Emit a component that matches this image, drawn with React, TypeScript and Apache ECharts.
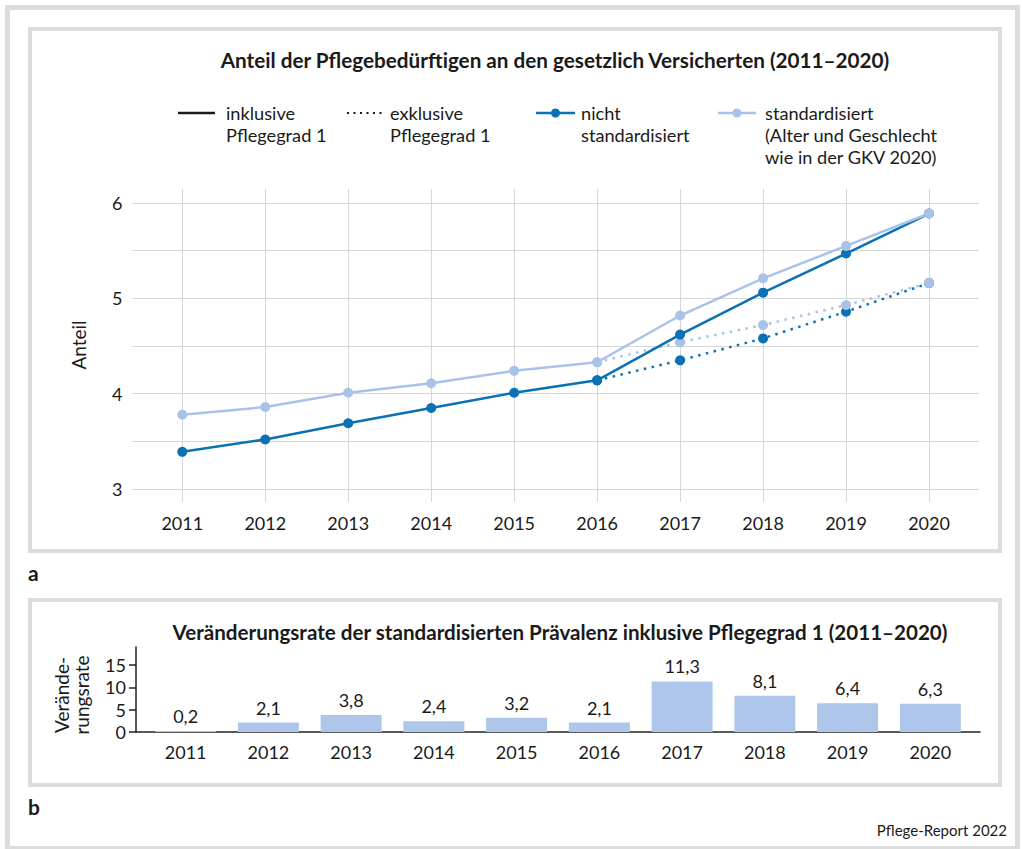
import React, { useEffect, useRef } from "react";
import * as echarts from "echarts";

const years = [2011, 2012, 2013, 2014, 2015, 2016, 2017, 2018, 2019, 2020];
const nichtInkl = [3.39, 3.52, 3.69, 3.85, 4.01, 4.14, 4.62, 5.06, 5.47, 5.89];
const stdInkl = [3.78, 3.86, 4.01, 4.11, 4.24, 4.33, 4.82, 5.21, 5.55, 5.89];
const exklYears = [2016, 2017, 2018, 2019, 2020];
const nichtExkl = [4.14, 4.35, 4.58, 4.86, 5.16];
const stdExkl = [4.33, 4.54, 4.72, 4.93, 5.16];
const rate = [0.2, 2.1, 3.8, 2.4, 3.2, 2.1, 11.3, 8.1, 6.4, 6.3];
const topGridValues = [3, 3.5, 4, 4.5, 5, 5.5, 6];
const topLabelValues = [3, 4, 5, 6];
const bottomTickValues = [0, 5, 10, 15];

const DARK = "#0a71b4";
const LIGHT = "#a9c3e8";
const BAR = "#adc6ea";
const TEXT = "#1a1a1a";
const BORDER = "#dcdcdc";
const GRIDC = "#d6d6d6";
const FONT = "Lato, 'Noto Sans', sans-serif";

const pair = (xs: number[], ys: number[]) => xs.map((x, i) => [x, ys[i]]);
const fmt = (v: number) => String(v).replace(".", ",");
const yearFmt = (v: number) => String(Math.round(v));

export default function App() {
  const ref = useRef<HTMLDivElement>(null);
  useEffect(() => {
    document.body.style.margin = "0";
    const chart = echarts.init(ref.current!, undefined, { renderer: "svg" });
    const txt = (text: string, x: number, y: number, extra: any = {}) => ({
      type: "text",
      x,
      y,
      style: {
        text,
        fill: TEXT,
        font: `400 18.2px ${FONT}`,
        align: "left",
        verticalAlign: "middle",
        ...extra,
      },
    });
    const legendTxt = (text: string, x: number) =>
      txt(text, x, 102, { verticalAlign: "top", lineHeight: 22 });
    const axisFont = { fontSize: 18, color: TEXT, fontFamily: FONT };
    chart.setOption({
      animation: false,
      textStyle: { fontFamily: FONT, color: TEXT },
      grid: [
        { left: 132.5, right: 43.2, top: 189, bottom: 347 },
        { left: 136, right: 42, top: 647, bottom: 117 },
      ],
      xAxis: [
        {
          gridIndex: 0,
          type: "value",
          min: 2010.4,
          max: 2020.6,
          axisLine: { show: false },
          axisTick: { show: false, customValues: years },
          axisLabel: { customValues: years, formatter: yearFmt, margin: 12, ...axisFont },
          splitLine: { show: true, lineStyle: { color: GRIDC, width: 1 } },
        },
        {
          gridIndex: 1,
          type: "value",
          min: 2010.4,
          max: 2020.6,
          axisLine: { show: true, onZero: false, lineStyle: { color: "#222", width: 1.5 } },
          axisTick: { show: false, customValues: years },
          axisLabel: { customValues: years, formatter: yearFmt, margin: 11, ...axisFont },
          splitLine: { show: false },
        },
      ],
      yAxis: [
        {
          gridIndex: 0,
          type: "value",
          min: 2.864,
          max: 6.147,
          axisLine: { show: false },
          axisTick: { show: false, customValues: topGridValues },
          axisLabel: { customValues: topLabelValues, margin: 10, ...axisFont },
          splitLine: { show: true, lineStyle: { color: GRIDC, width: 1.2 } },
        },
        {
          gridIndex: 1,
          type: "value",
          min: 0,
          max: 19,
          axisLine: { show: true, lineStyle: { color: "#222", width: 1.5 } },
          axisTick: {
            show: true,
            inside: false,
            length: 7,
            customValues: bottomTickValues,
            lineStyle: { color: "#222", width: 1.5 },
          },
          axisLabel: { customValues: bottomTickValues, margin: 10, ...axisFont },
          splitLine: { show: false },
        },
      ],
      series: [
        {
          name: "nicht standardisiert exklusive",
          type: "line",
          xAxisIndex: 0,
          yAxisIndex: 0,
          data: pair(exklYears, nichtExkl),
          symbol: "circle",
          symbolSize: 10,
          itemStyle: { color: DARK },
          lineStyle: { color: DARK, width: 2.5, type: [2.5, 5.5] },
        },
        {
          name: "standardisiert exklusive",
          type: "line",
          xAxisIndex: 0,
          yAxisIndex: 0,
          data: pair(exklYears, stdExkl),
          symbol: "circle",
          symbolSize: 10,
          itemStyle: { color: LIGHT },
          lineStyle: { color: LIGHT, width: 2.5, type: [2.5, 5.5] },
        },
        {
          name: "nicht standardisiert inklusive",
          type: "line",
          xAxisIndex: 0,
          yAxisIndex: 0,
          data: pair(years, nichtInkl),
          symbol: "circle",
          symbolSize: 10,
          itemStyle: { color: DARK },
          lineStyle: { color: DARK, width: 2.5 },
        },
        {
          name: "standardisiert inklusive",
          type: "line",
          xAxisIndex: 0,
          yAxisIndex: 0,
          data: pair(years, stdInkl),
          symbol: "circle",
          symbolSize: 10,
          itemStyle: { color: LIGHT },
          lineStyle: { color: LIGHT, width: 2.5 },
        },
        {
          name: "Veränderungsrate",
          type: "bar",
          xAxisIndex: 1,
          yAxisIndex: 1,
          data: pair(years, rate),
          barWidth: 61,
          itemStyle: { color: BAR },
          label: {
            show: true,
            position: "top",
            distance: 6,
            ...axisFont,
            formatter: (p: any) => fmt(p.value[1]),
          },
        },
      ],
      graphic: [
        { type: "rect", silent: true, shape: { x: 7.5, y: 7.5, width: 1010, height: 841 }, style: { fill: "none", stroke: BORDER, lineWidth: 5 } },
        { type: "rect", silent: true, shape: { x: 30, y: 29, width: 970, height: 522 }, style: { fill: "none", stroke: BORDER, lineWidth: 4 } },
        { type: "rect", silent: true, shape: { x: 30, y: 600, width: 970, height: 185 }, style: { fill: "none", stroke: BORDER, lineWidth: 4 } },
        txt("Anteil der Pflegebedürftigen an den gesetzlich Versicherten (2011–2020)", 555, 60, { align: "center", font: `700 20.7px ${FONT}` }),
        txt("Veränderungsrate der standardisierten Prävalenz inklusive Pflegegrad 1 (2011–2020)", 560, 632, { align: "center", font: `700 20.6px ${FONT}` }),
        // legend
        { type: "line", shape: { x1: 178, y1: 113, x2: 215, y2: 113 }, style: { stroke: TEXT, lineWidth: 2.5 } },
        legendTxt("inklusive\nPflegegrad 1", 226),
        { type: "line", shape: { x1: 347, y1: 113, x2: 383, y2: 113 }, style: { stroke: TEXT, lineWidth: 2, lineDash: [2, 4.5] } },
        legendTxt("exklusive\nPflegegrad 1", 390),
        { type: "line", shape: { x1: 536, y1: 113, x2: 575, y2: 113 }, style: { stroke: DARK, lineWidth: 2.5 } },
        { type: "circle", shape: { cx: 555.5, cy: 113, r: 4.5 }, style: { fill: DARK } },
        legendTxt("nicht\nstandardisiert", 581),
        { type: "line", shape: { x1: 718, y1: 113, x2: 756, y2: 113 }, style: { stroke: LIGHT, lineWidth: 2.5 } },
        { type: "circle", shape: { cx: 737, cy: 113, r: 4.5 }, style: { fill: LIGHT } },
        legendTxt("standardisiert\n(Alter und Geschlecht\nwie in der GKV 2020)", 765),
        // axis names
        { ...txt("Anteil", 78, 345, { align: "center", font: `400 19px ${FONT}` }), rotation: Math.PI / 2 },
        { ...txt("Verände-\nrungsrate", 71, 695, { align: "center", lineHeight: 20, font: `400 19px ${FONT}` }), rotation: Math.PI / 2 },
        // panel labels
        txt("a", 28, 572, { font: `700 21px ${FONT}` }),
        txt("b", 28, 806, { font: `700 21px ${FONT}` }),
        txt("Pflege-Report 2022", 1007, 830, { align: "right", font: `400 15px ${FONT}` }),
      ],
    });
    return () => chart.dispose();
  }, []);
  return <div ref={ref} style={{ width: 1022, height: 849 }} />;
}
